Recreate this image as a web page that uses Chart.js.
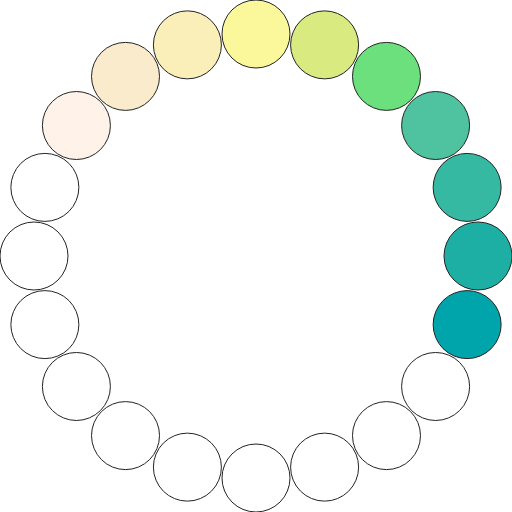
<!DOCTYPE html>
<html>
<head>
<meta charset="utf-8">
<script src="https://cdn.jsdelivr.net/npm/chart.js@4/dist/chart.umd.min.js"></script>
<style>
  html, body { margin: 0; padding: 0; background: #fff; }
  #wrap { width: 512px; height: 512px; }
</style>
</head>
<body>
<div id="wrap"><canvas id="ring" width="512" height="512"></canvas></div>
<script>
// one swatch per slot, clockwise from 12 o'clock
const slots = ['1','2','3','4','5','6','7','8','9','10','11','12','13','14','15','16','17','18','19','20'];
const fills = [
  '#fbf79b', '#d9ea80', '#6be07d', '#4fc3a0', '#36b9a2', '#1dafa4', '#00a5ac',
  '#ffffff', '#ffffff', '#ffffff', '#ffffff', '#ffffff', '#ffffff', '#ffffff',
  '#ffffff', '#ffffff', '#ffffff',
  '#fff2e8', '#fbebcd', '#faefb8'
];

// ring layout: slot index -> unit circle
const points = slots.map((s, i) => {
  const a = i * 2 * Math.PI / slots.length;
  return { x: Math.sin(a), y: Math.cos(a) };
});

const span = 256 / 222;

new Chart(document.getElementById('ring'), {
  type: 'scatter',
  data: {
    labels: slots,
    datasets: [{
      data: points,
      backgroundColor: fills,
      borderColor: '#222',
      borderWidth: 1,
      pointRadius: 34,
      pointHoverRadius: 34,
      clip: false
    }]
  },
  options: {
    responsive: false,
    animation: false,
    layout: { padding: 0, autoPadding: false },
    plugins: { legend: { display: false }, tooltip: { enabled: false } },
    scales: {
      x: { display: false, min: -span, max: span },
      y: { display: false, min: -span, max: span }
    }
  }
});
</script>
</body>
</html>
